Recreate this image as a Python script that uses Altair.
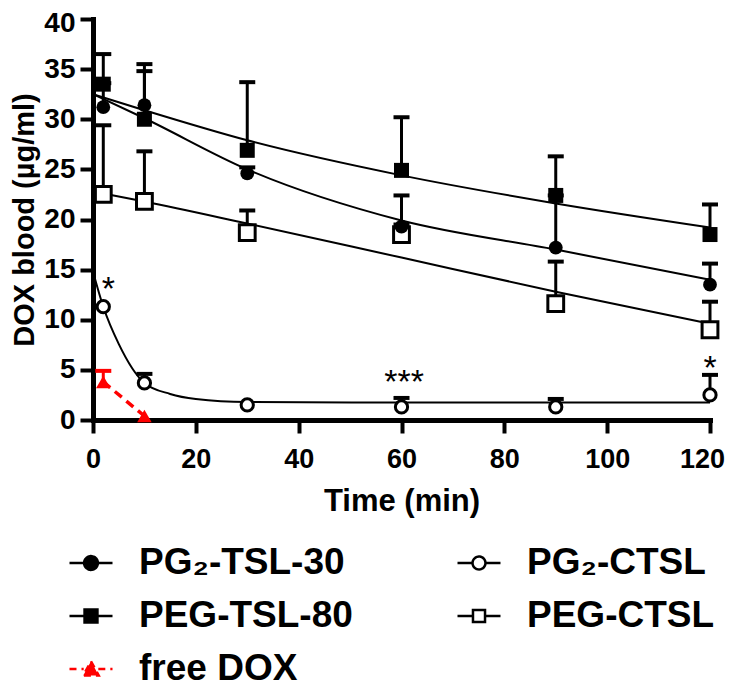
import altair as alt
import pandas as pd

FONT = "Liberation Sans"

# ---------------- data ----------------
TIMES = [2, 10, 30, 60, 90, 120]
SERIES = ["PG₂-TSL-30", "PEG-TSL-80", "PG₂-CTSL", "PEG-CTSL", "free DOX"]

PG2_TSL30 = [31.2, 31.4, 24.6, 19.3, 17.2, 13.5]
PG2_TSL30_ERR = [2.4, 4.1, 0.6, 3.1, 5.2, 2.1]
PEG_TSL80 = [33.5, 30.0, 26.9, 24.9, 22.4, 18.5]
PEG_TSL80_ERR = [3.0, 4.8, 6.8, 5.3, 3.9, 3.0]
PG2_CTSL = [11.3, 3.7, 1.5, 1.3, 1.3, 2.5]
PG2_CTSL_ERR = [0.0, 0.9, 0.0, 0.9, 0.8, 2.0]
PEG_CTSL = [22.5, 21.8, 18.7, 18.5, 11.6, 9.0]
PEG_CTSL_ERR = [6.9, 5.0, 2.2, 1.0, 4.2, 2.8]
DOX_TIMES = [2, 10]
FREE_DOX = [3.8, 0.4]
FREE_DOX_ERR = [1.1, 0.0]

# fitted curves
FIT_T = [0, 10, 30, 60, 90, 120]
FIT_PG2_TSL30 = [32.5, 30.1, 25.0, 19.9, 17.0, 14.0]
FIT_PEG_TSL80 = [32.5, 30.9, 27.9, 24.4, 21.6, 19.2]
FIT_PEG_CTSL = [22.8, 21.8, 19.6, 16.2, 12.8, 9.6]
FIT_PG2_CTSL_T = [0, 2, 5, 10, 15, 20, 30, 60, 90, 120]
FIT_PG2_CTSL = [14.8, 11.3, 7.6, 3.7, 2.6, 2.1, 1.8, 1.75, 1.75, 1.75]

# significance marks
ANN_T = [3, 60.5, 120]
ANN_V = [14.0, 4.7, 6.1]
ANN_TEXT = ["*", "***", "*"]

X_TICKS = [0, 20, 40, 60, 80, 100, 120]
Y_TICKS = [0, 5, 10, 15, 20, 25, 30, 35, 40]

# legend entries fill column by column
LEGEND_ORDER = ["PG₂-TSL-30", "PEG-TSL-80", "free DOX", "PG₂-CTSL", "PEG-CTSL"]
LEGEND_PATHS = [
    "M-1,0H-0.32M0.32,0H1M0.32,0A0.32,0.32,0,1,1,-0.32,0A0.32,0.32,0,1,1,0.32,0Z",
    "M-1,0H-0.3M0.3,0H1M-0.3,-0.3H0.3V0.3H-0.3Z",
    "M-1,0H-0.34M0.34,0H1M0,-0.36L0.36,0.3H-0.36Z",
    "M-1,0H-0.3M0.3,0H1M0.3,0A0.3,0.3,0,1,1,-0.3,0A0.3,0.3,0,1,1,0.3,0Z",
    "M-1,0H-0.3M0.3,0H1M-0.28,-0.28H0.28V0.28H-0.28Z",
]
LEGEND_FILL = ["black", "black", "red", "white", "white"]
LEGEND_STROKE = ["black", "black", "red", "black", "black"]
LEGEND_DASH = [[1, 0], [1, 0], [7, 5], [1, 0], [1, 0]]

# ---------------- tables ----------------
rows = []
for name, vals, errs, ts in [
    (SERIES[0], PG2_TSL30, PG2_TSL30_ERR, TIMES),
    (SERIES[1], PEG_TSL80, PEG_TSL80_ERR, TIMES),
    (SERIES[2], PG2_CTSL, PG2_CTSL_ERR, TIMES),
    (SERIES[3], PEG_CTSL, PEG_CTSL_ERR, TIMES),
    (SERIES[4], FREE_DOX, FREE_DOX_ERR, DOX_TIMES),
]:
    for t, v, e in zip(ts, vals, errs):
        rows.append({"series": name, "t": t, "v": v, "top": v + e, "err": e})
pts = pd.DataFrame(rows)

fit_rows = []
for name, ts, vals in [
    (SERIES[0], FIT_T, FIT_PG2_TSL30),
    (SERIES[1], FIT_T, FIT_PEG_TSL80),
    (SERIES[2], FIT_PG2_CTSL_T, FIT_PG2_CTSL),
    (SERIES[3], FIT_T, FIT_PEG_CTSL),
]:
    for t, v in zip(ts, vals):
        fit_rows.append({"series": name, "t": t, "v": v})
fits = pd.DataFrame(fit_rows)

ann = pd.DataFrame({"t": ANN_T, "v": ANN_V, "txt": ANN_TEXT})
leg = pd.DataFrame({"label": LEGEND_ORDER, "t": [None] * 5, "v": [None] * 5})

# ---------------- encodings ----------------
x_enc = alt.X(
    "t:Q",
    scale=alt.Scale(domain=[0, 120], nice=False),
    axis=alt.Axis(values=X_TICKS, title="Time (min)", labelPadding=13, labelFlush=False,
                  labelFontSize=27,
                  labelOffset={"condition": {"test": "datum.value == 120", "value": -8}, "value": 0},
                  titleFontSize=31, titleBaseline="alphabetic", titleY=90),
)
y_axis = alt.Axis(values=Y_TICKS, title="DOX blood (µg/ml)", labelPadding=5, labelFlush=False,
                  labelOffset={"condition": {"test": "datum.value == 40", "value": 4}, "value": 0},
                  titleFontSize=29, titleBaseline="alphabetic", titleX=-60,
                  titleY=200.5, titleAlign="center", titleAngle=270)
y_scale = alt.Scale(domain=[0, 40], nice=False)
y_enc = alt.Y("v:Q", scale=y_scale, axis=y_axis)
top_enc = alt.Y("top:Q", scale=y_scale, axis=y_axis)

base = alt.Chart(pts)

curves = alt.Chart(fits).mark_line(color="black", strokeWidth=2, interpolate="monotone").encode(
    x=x_enc, y=y_enc, detail="series:N"
)

dox_line = base.transform_filter(alt.datum.series == "free DOX").mark_line(
    color="red", strokeWidth=3.5, strokeDash=[9, 6]
).encode(x=x_enc, y=y_enc)

err_black = base.transform_filter((alt.datum.err > 0) & (alt.datum.series != "free DOX")).mark_rule(
    color="black", strokeWidth=3
).encode(x=x_enc, y=y_enc, y2="top:Q")
cap_black = base.transform_filter((alt.datum.err > 0) & (alt.datum.series != "free DOX")).mark_tick(
    color="black", orient="horizontal", size=16, thickness=4, opacity=1
).encode(x=x_enc, y=top_enc)

err_red = base.transform_filter((alt.datum.err > 0) & (alt.datum.series == "free DOX")).mark_rule(
    color="red", strokeWidth=3
).encode(x=x_enc, y=y_enc, y2="top:Q")
cap_red = base.transform_filter((alt.datum.err > 0) & (alt.datum.series == "free DOX")).mark_tick(
    color="red", orient="horizontal", size=16, thickness=4, opacity=1
).encode(x=x_enc, y=top_enc)


def marker(name, shape, size, filled, color="black"):
    if filled:
        m = base.mark_point(shape=shape, size=size, filled=True, fill=color,
                            stroke=color, strokeWidth=0, opacity=1)
    else:
        m = base.mark_point(shape=shape, size=size, filled=True, fill="white",
                            stroke=color, strokeWidth=3, opacity=1)
    return m.transform_filter(alt.datum.series == name).encode(x=x_enc, y=y_enc)


m_pgc = marker(SERIES[2], "circle", 150, False)
m_pegc = marker(SERIES[3], "square", 250, False)
m_pg30 = marker(SERIES[0], "circle", 190, True)
m_peg80 = marker(SERIES[1], "square", 225, True)
m_dox = marker(SERIES[4], "triangle-up", 210, True, "red")

stars = alt.Chart(ann).mark_text(
    font=FONT, fontSize=34, fontWeight="normal", color="black",
    baseline="alphabetic", align="center", dy=20
).encode(x=x_enc, y=y_enc, text="txt:N")

lg = alt.Legend(
    title=None, orient="none", legendX=-25, legendY=521, columns=2,
    labelFont=FONT, labelFontSize=37, labelFontWeight="bold", labelColor="black",
    labelLimit=500, labelOffset=25, symbolSize=1850, symbolStrokeWidth=2.5,
    rowPadding=12, columnPadding=99, padding=0,
)
legend_layer = alt.Chart(leg).mark_point(filled=True, opacity=1, strokeWidth=2.5, size=1850).encode(
    x=x_enc, y=y_enc,
    shape=alt.Shape("label:N", scale=alt.Scale(domain=LEGEND_ORDER, range=LEGEND_PATHS), legend=lg),
    fill=alt.Fill("label:N", scale=alt.Scale(domain=LEGEND_ORDER, range=LEGEND_FILL), legend=lg),
    stroke=alt.Stroke("label:N", scale=alt.Scale(domain=LEGEND_ORDER, range=LEGEND_STROKE), legend=lg),
    strokeDash=alt.StrokeDash("label:N", scale=alt.Scale(domain=LEGEND_ORDER, range=LEGEND_DASH), legend=lg),
)

chart = alt.layer(
    curves, dox_line, err_black, cap_black, err_red, cap_red,
    m_pgc, m_pegc, m_pg30, m_peg80, m_dox, stars, legend_layer
).properties(
    width=617, height=401,
    padding={"left": 85, "top": 11, "right": 17, "bottom": 269},
    autosize=alt.AutoSizeParams(type="none"),
).configure_view(stroke=None).configure_axis(
    grid=False, domainColor="black", domainWidth=5, domainCap="square",
    tickColor="black", tickWidth=4, tickSize=13,
    labelFont=FONT, labelFontSize=28, labelFontWeight="bold", labelColor="black",
    titleFont=FONT, titleFontWeight="bold", titleColor="black",
)

chart.save("out.html", embed_options={"renderer": "svg", "actions": False})
